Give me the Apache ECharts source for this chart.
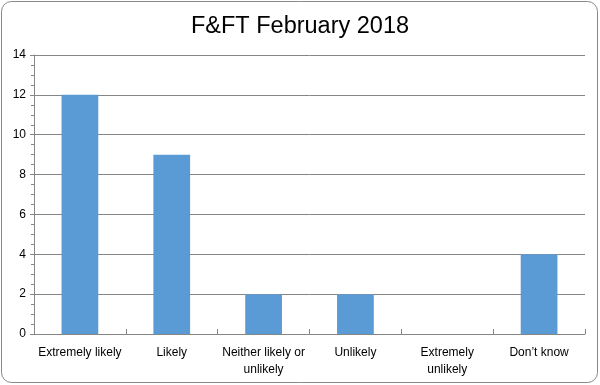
<!DOCTYPE html>
<html>
<head>
<meta charset="utf-8">
<script src="https://cdn.jsdelivr.net/npm/echarts@6/dist/echarts.min.js"></script>
<style>
html,body{margin:0;padding:0;background:#fff;}
#c{width:600px;height:385px;}
</style>
</head>
<body>
<div id="c"></div>
<script>
var categories = ["Extremely likely", "Likely", "Neither likely or\nunlikely", "Unlikely", "Extremely\nunlikely", "Don\u2019t know"];
var values = [12, 9, 2, 2, 0, 4];
var yTicks = [0, 2, 4, 6, 8, 10, 12, 14];

var chart = echarts.init(document.getElementById('c'), null, {renderer: 'canvas'});
chart.setOption({
  backgroundColor: '#fff',
  animation: false,
  title: {
    text: 'F&FT February 2018',
    left: 'center',
    top: 10,
    textStyle: {fontFamily: 'Liberation Sans', fontSize: 23.5, fontWeight: 'normal', color: '#000'}
  },
  graphic: [{
    type: 'rect',
    shape: {x: 1.5, y: 1.5, width: 596, height: 381, r: 10},
    style: {fill: 'none', stroke: '#888', lineWidth: 1},
    z: 100
  }],
  grid: {left: 34, right: 15, top: 55, bottom: 51, containLabel: false},
  xAxis: {
    type: 'category',
    data: categories,
    axisLine: {lineStyle: {color: '#868686'}},
    axisTick: {show: true, inside: true, length: 5, lineStyle: {color: '#868686'}},
    axisLabel: {fontFamily: 'Liberation Sans', fontSize: 12, color: '#000', margin: 10, interval: 0, lineHeight: 17}
  },
  yAxis: {
    type: 'value',
    min: yTicks[0],
    max: yTicks[yTicks.length - 1],
    interval: 2,
    axisLine: {show: true, lineStyle: {color: '#868686'}},
    axisTick: {show: true, length: 4, lineStyle: {color: '#868686'}},
    minorTick: {show: true, splitNumber: 4, length: 3, lineStyle: {color: '#868686'}},
    splitLine: {lineStyle: {color: '#868686'}},
    axisLabel: {fontFamily: 'Liberation Sans', fontSize: 12, color: '#000', margin: 8}
  },
  series: [{
    type: 'bar',
    data: values,
    barWidth: '40%',
    itemStyle: {color: '#5B9BD5'}
  }]
});
</script>
</body>
</html>
